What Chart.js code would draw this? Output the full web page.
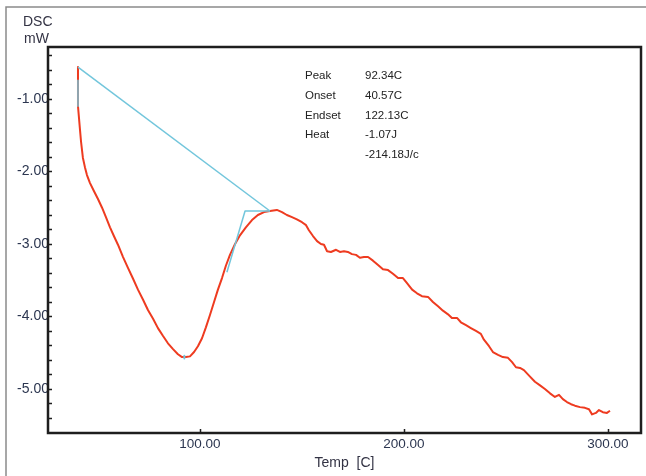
<!DOCTYPE html>
<html>
<head>
<meta charset="utf-8">
<script src="https://cdn.jsdelivr.net/npm/chart.js@4.4.0/dist/chart.umd.min.js"></script>
<style>
  html, body { margin: 0; padding: 0; background: #fff; }
  canvas { display: block; }
</style>
</head>
<body>
<canvas id="dscChart" width="646" height="476"></canvas>
<script>
// DSC curve (temperature in C, heat flow in mW)
const tempC = [40.2, 40.2, 41.2, 41.7, 42.6, 43.6, 44.6, 46.1, 48.0, 50.0, 52.0, 53.9, 55.9, 57.8, 59.8, 62.3, 64.7, 67.2, 69.6, 72.1,
  74.5, 77.0, 79.4, 81.9, 84.3, 86.8, 89.2, 91.2, 93.1, 95.1, 97.1, 99.0, 101.0, 102.9, 104.9, 106.9, 108.8, 110.8, 112.7, 114.7,
  117.2, 119.6, 122.5, 125.5, 128.4, 131.4, 134.3, 137.7, 140.2, 142.6, 145.1, 147.5, 150.0, 152.0, 153.4, 155.4, 157.4, 159.3, 160.8, 162.3,
  164.2, 166.7, 168.6, 170.6, 172.5, 174.5, 176.5, 178.4, 180.4, 182.4, 184.8, 187.3, 189.7, 192.2, 194.6, 197.1, 199.5, 201.5, 204.0, 206.4,
  208.8, 211.8, 214.2, 216.7, 219.1, 221.6, 223.5, 226.0, 227.9, 230.4, 232.8, 235.3, 237.7, 239.2, 241.7, 243.6, 246.1, 248.5, 251.0, 253.0,
  254.9, 256.9, 258.8, 261.8, 264.2, 266.7, 269.1, 271.6, 274.0, 276.0, 277.9, 279.9, 281.9, 283.8, 286.3, 288.7, 290.7, 292.2, 294.1, 295.6,
  297.5, 299.5, 301.0];
const dscMw = [-0.56, -1.10, -1.43, -1.59, -1.81, -1.94, -2.05, -2.16, -2.27, -2.38, -2.50, -2.63, -2.77, -2.89, -3.01, -3.18, -3.33, -3.48, -3.63, -3.77,
  -3.91, -4.03, -4.16, -4.27, -4.37, -4.45, -4.52, -4.56, -4.56, -4.55, -4.49, -4.41, -4.30, -4.15, -3.98, -3.80, -3.63, -3.47, -3.30, -3.15,
  -3.00, -2.88, -2.77, -2.67, -2.60, -2.56, -2.545, -2.53, -2.56, -2.60, -2.63, -2.66, -2.70, -2.74, -2.81, -2.89, -2.96, -3.00, -3.01, -3.10,
  -3.11, -3.08, -3.11, -3.10, -3.11, -3.14, -3.15, -3.19, -3.18, -3.18, -3.23, -3.29, -3.35, -3.36, -3.41, -3.47, -3.47, -3.54, -3.63, -3.68,
  -3.72, -3.73, -3.80, -3.86, -3.92, -3.97, -4.02, -4.02, -4.08, -4.12, -4.16, -4.20, -4.24, -4.32, -4.41, -4.49, -4.53, -4.56, -4.57, -4.63,
  -4.70, -4.71, -4.74, -4.83, -4.90, -4.95, -5.00, -5.06, -5.11, -5.08, -5.14, -5.18, -5.21, -5.23, -5.25, -5.26, -5.28, -5.35, -5.33, -5.29,
  -5.32, -5.33, -5.30];

// analysis construction lines (cyan)
const baselineT = [40.2, 134.3];
const baselineV = [-0.56, -2.545];
const onsetDropT = [40.2, 40.2];
const onsetDropV = [-0.74, -1.10];
const endsetT = [113.2, 122.1, 134.3];
const endsetV = [-3.39, -2.545, -2.545];
const peakMarkT = [92.34, 92.34];
const peakMarkV = [-4.54, -4.58];

// axes
const xRange = [25.5, 316.2];
const yRange = [-5.607, -0.283];
const xTicks = [100, 200, 300];
const yMajorTicks = [-5, -4, -3, -2, -1];
const yMinorTicks = [-5.4, -5.2, -4.8, -4.6, -4.4, -4.2, -3.8, -3.6, -3.4, -3.2, -2.8, -2.6, -2.4, -2.2, -1.8, -1.6, -1.4, -1.2, -0.8, -0.6, -0.4];

// result table
const resultLabels = ['Peak', 'Onset', 'Endset', 'Heat', ''];
const resultValues = ['92.34C', '40.57C', '122.13C', '-1.07J', '-214.18J/c'];

const RED = '#ee3b20';
const CYAN = '#72c6dc';
const INK = '#1e1e1e';
const LABEL = '#2c3650';

function pts(xs, ys) {
  return xs.map((x, i) => ({ x: x, y: ys[i] }));
}

const framePlugin = {
  id: 'frame',
  beforeDraw(chart) {
    const c = chart.ctx;
    c.save();
    c.fillStyle = '#fff';
    c.fillRect(0, 0, chart.width, chart.height);
    // outer window frame
    c.strokeStyle = '#8a8a8a';
    c.lineWidth = 1.5;
    c.beginPath();
    c.moveTo(6, chart.height);
    c.lineTo(6, 7);
    c.lineTo(chart.width, 7);
    c.stroke();
    c.restore();
  },
  afterDraw(chart) {
    const c = chart.ctx;
    const a = chart.chartArea;
    const xs = chart.scales.x;
    const ys = chart.scales.y;
    c.save();
    c.strokeStyle = INK;
    c.lineWidth = 2.5;
    c.strokeRect(a.left, a.top, a.right - a.left, a.bottom - a.top);
    // inward tick marks
    c.lineWidth = 1.5;
    c.beginPath();
    yMajorTicks.concat(yMinorTicks).forEach(v => {
      const py = Math.round(ys.getPixelForValue(v)) + 0.5;
      c.moveTo(a.left, py);
      c.lineTo(a.left + 4, py);
    });
    xTicks.forEach(v => {
      const px = Math.round(xs.getPixelForValue(v)) + 0.5;
      c.moveTo(px, a.bottom);
      c.lineTo(px, a.bottom - 4);
    });
    c.stroke();

    // axis titles
    c.fillStyle = '#333344';
    c.font = '14px "Liberation Sans", Arial, sans-serif';
    c.textAlign = 'left';
    c.textBaseline = 'middle';
    c.fillText('DSC', 23, 22);
    c.fillText('mW', 24, 39);
    c.textAlign = 'center';
    c.fillText('Temp  [C]', (a.left + a.right) / 2, 463);

    // result table
    c.fillStyle = '#222';
    c.font = '11.5px "Liberation Sans", Arial, sans-serif';
    c.textAlign = 'left';
    resultLabels.forEach((t, i) => {
      const y = 76 + i * 19.7;
      if (t) c.fillText(t, 305, y);
      c.fillText(resultValues[i], 365, y);
    });
    c.restore();
  }
};

const ctx = document.getElementById('dscChart').getContext('2d');
const dscChart = new Chart(ctx, {
  type: 'line',
  data: {
    datasets: [
      { data: pts(baselineT, baselineV), borderColor: CYAN, borderWidth: 1.5, order: 0 },
      { data: pts(onsetDropT, onsetDropV), borderColor: CYAN, borderWidth: 1.5, order: 0 },
      { data: pts(endsetT, endsetV), borderColor: CYAN, borderWidth: 1.5, order: 0 },
      { data: pts(peakMarkT, peakMarkV), borderColor: CYAN, borderWidth: 2, order: 0 },
      { data: pts(tempC, dscMw), borderColor: RED, borderWidth: 2, order: 1 }
    ]
  },
  options: {
    responsive: false,
    animation: false,
    parsing: true,
    elements: {
      point: { radius: 0 },
      line: { tension: 0, fill: false, borderJoinStyle: 'round' }
    },
    layout: { padding: { top: 47, right: 5, left: 0, bottom: 0 } },
    plugins: {
      legend: { display: false },
      tooltip: { enabled: false }
    },
    scales: {
      x: {
        type: 'linear',
        min: xRange[0],
        max: xRange[1],
        grid: { display: false, drawTicks: false },
        border: { display: false },
        afterBuildTicks: function(scale) {
          scale.ticks = xTicks.map(v => ({ value: v }));
        },
        afterFit: function(scale) { scale.height = 43; },
        ticks: {
          padding: 3,
          color: LABEL,
          font: { family: '"Liberation Sans", Arial, sans-serif', size: 13.5 },
          maxRotation: 0,
          callback: function(v) { return v.toFixed(2); }
        }
      },
      y: {
        type: 'linear',
        min: yRange[0],
        max: yRange[1],
        grid: { display: false, drawTicks: false },
        border: { display: false },
        afterBuildTicks: function(scale) {
          scale.ticks = yMajorTicks.map(v => ({ value: v }));
        },
        afterFit: function(scale) { scale.width = 48; },
        ticks: {
          padding: -1,
          color: LABEL,
          font: { family: '"Liberation Sans", Arial, sans-serif', size: 14 },
          callback: function(v) { return v.toFixed(2); }
        }
      }
    }
  },
  plugins: [framePlugin]
});
</script>
</body>
</html>
